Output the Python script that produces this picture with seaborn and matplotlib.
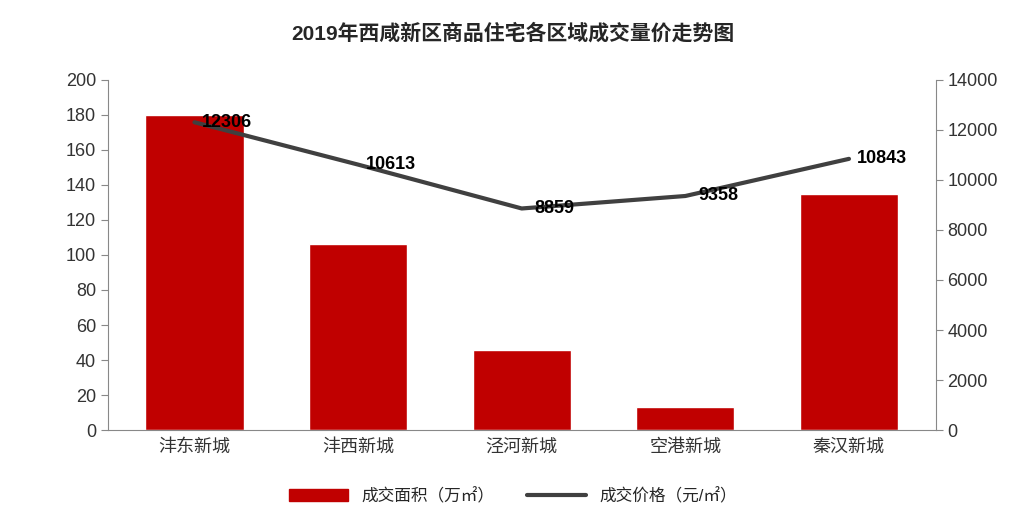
import matplotlib
matplotlib.use("Agg")
import matplotlib.pyplot as plt
import seaborn as sns
import pandas as pd

categories = ["沣东新城", "沣西新城", "泾河新城", "空港新城", "秦汉新城"]
area = [180, 106, 46, 13, 135]
price = [12306, 10613, 8859, 9358, 10843]

sns.set_style("white")
plt.rcParams['font.family'] = ['Liberation Sans', 'Noto Sans CJK SC']

df = pd.DataFrame({"cat": categories, "area": area, "price": price})

fig = plt.figure(figsize=(10.26, 5.29), dpi=100)
ax = fig.add_axes([0.105, 0.187, 0.807, 0.662])
sns.barplot(data=df, x="cat", y="area", color="#C00000", width=0.6, ax=ax, saturation=1)
ax.set_ylim(0, 200)
ax.set_yticks(range(0, 201, 20))
ax.set_xlabel(""); ax.set_ylabel("")
ax2 = ax.twinx()
sns.lineplot(x=list(range(5)), y=price, color="#404040", linewidth=3, ax=ax2)
ax2.set_ylim(0, 14000)
ax2.set_yticks(range(0, 14001, 2000))
for i, v in enumerate(price):
    ax2.text(i + 0.2, v, str(v), fontsize=13, fontweight="bold", va="center", ha="center", color="black")
for a in (ax, ax2):
    for s in a.spines.values():
        s.set_visible(False)
    a.tick_params(labelsize=13, colors="#333333", length=0)
ax.spines['left'].set_visible(True); ax.spines['left'].set_color("#888888")
ax2.spines['right'].set_visible(True); ax2.spines['right'].set_color("#888888")
ax.spines['bottom'].set_visible(True); ax.spines['bottom'].set_color("#888888")
ax.tick_params(axis='y', length=5, direction='out', color="#888888")
ax2.tick_params(axis='y', length=5, direction='out', color="#888888")
ax.tick_params(axis='x', labelsize=13, pad=6)
fig.text(0.5, 0.925, "2019年西咸新区商品住宅各区域成交量价走势图", ha="center", fontsize=15, fontweight="bold")
from matplotlib.patches import Patch
from matplotlib.lines import Line2D
fig.legend([Patch(color="#C00000"), Line2D([0], [0], color="#404040", lw=3)],
           ["成交面积（万㎡）", "成交价格（元/㎡）"], loc="center", bbox_to_anchor=(0.5, 0.063),
           ncol=2, frameon=False, fontsize=12, handlelength=3.5, columnspacing=2)
fig.savefig("out.png", dpi=100)
